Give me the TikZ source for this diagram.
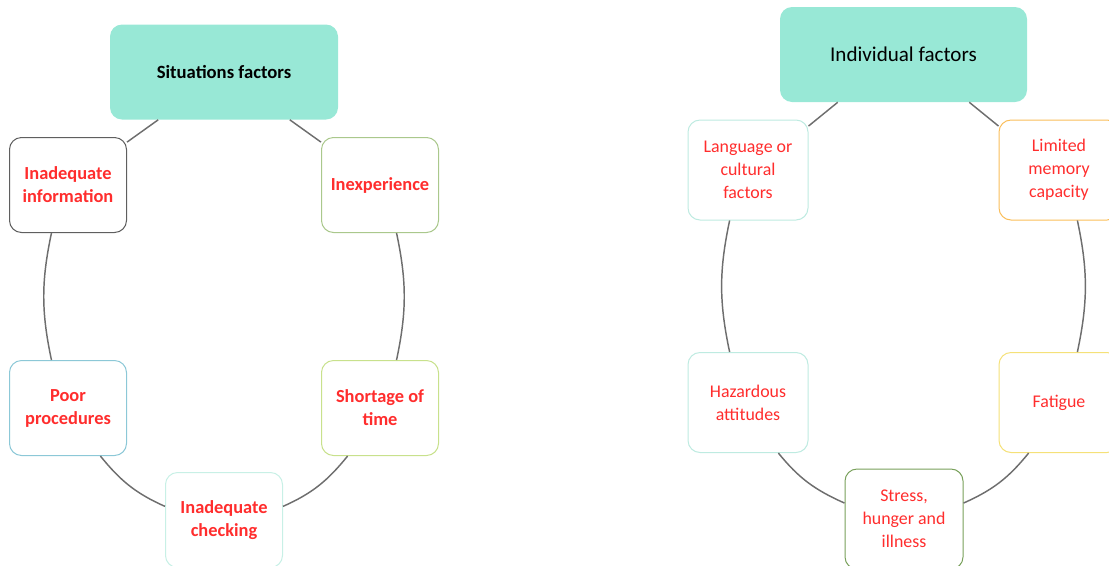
\documentclass[tikz,border=0pt]{standalone}
\usepackage{fontspec}
\setmainfont{Carlito}

\definecolor{titlefill}{RGB}{152,232,214}
\definecolor{labelred}{RGB}{255,45,45}
\definecolor{linkgray}{RGB}{110,110,110}
\definecolor{infoedge}{RGB}{95,95,95}
\definecolor{expedge}{RGB}{170,200,140}
\definecolor{pooredge}{RGB}{140,200,215}
\definecolor{shortedge}{RGB}{200,225,140}
\definecolor{checkedge}{RGB}{200,240,230}
\definecolor{paleedge}{RGB}{190,235,225}
\definecolor{memedge}{RGB}{250,190,90}
\definecolor{fatedge}{RGB}{245,225,120}
\definecolor{stressedge}{RGB}{120,160,90}

\tikzset{
  factor/.style={draw, line width=0.75pt, fill=white, rounded corners=9pt, inner sep=0pt,
    align=center, text=labelred, minimum width=87.75pt, minimum height=71.25pt,
    font=\bfseries\fontsize{13.8}{17.25}\selectfont},
  bigfactor/.style={factor, minimum width=90pt, minimum height=75pt,
    font=\fontsize{13.4}{17.25}\selectfont},
  heading/.style={fill=titlefill, rounded corners=9pt, inner sep=0pt, minimum height=71.25pt},
  link/.style={draw=linkgray, line width=1.1pt}
}

\begin{document}
\begin{tikzpicture}[x=0.75pt,y=-0.75pt]
  \useasboundingbox (0,0) rectangle (1109,565);
  \clip (0,0) rectangle (1109,565);

  \node[heading, minimum width=171pt, font=\bfseries\fontsize{14}{16}\selectfont] (sitTitle) at (224,72) {Situations factors};
  \node[factor, draw=infoedge] (sitInfo) at (68,185) {Inadequate\\information};
  \node[factor, draw=expedge] (sitExp) at (380,185) {Inexperience};
  \node[factor, draw=pooredge] (sitPoor) at (68,408) {Poor\\procedures};
  \node[factor, draw=shortedge] (sitShort) at (380,408) {Shortage of\\time};
  \node[factor, draw=checkedge] (sitCheck) at (224,520) {Inadequate\\checking};

  \draw[link] (sitTitle.216) -- (sitInfo.36);
  \draw[link] (sitTitle.324) -- (sitExp.144);
  \draw[link] (sitInfo.251) to[out=258,in=102] (sitPoor.109);
  \draw[link] (sitExp.289) to[out=282,in=78] (sitShort.71);
  \draw[link] (sitPoor.-56) to[out=-51,in=156] (sitCheck.167);
  \draw[link] (sitShort.236) to[out=231,in=24] (sitCheck.13);

  \node[heading, minimum width=185.25pt, font=\fontsize{15.8}{18}\selectfont] (indTitle) at (903.5,54.5) {Individual factors};
  \node[bigfactor, draw=paleedge] (indLang) at (748,170) {Language or\\cultural\\factors};
  \node[bigfactor, draw=memedge] (indMem) at (1059,170) {Limited\\memory\\capacity};
  \node[bigfactor, draw=paleedge] (indHaz) at (748,402.5) {Hazardous\\attitudes};
  \node[bigfactor, draw=fatedge] (indFat) at (1059,402.5) {Fatigue};
  \node[bigfactor, minimum width=88.5pt, draw=stressedge] (indStress) at (904,519) {Stress,\\hunger and\\illness};

  \draw[link] (indTitle.216) -- (indLang.36);
  \draw[link] (indTitle.324) -- (indMem.144);
  \draw[link] (indLang.250) to[out=258,in=102] (indHaz.110);
  \draw[link] (indMem.290) to[out=282,in=78] (indFat.70);
  \draw[link] (indHaz.-59) to[out=-51,in=156] (indStress.165);
  \draw[link] (indFat.239) to[out=231,in=24] (indStress.15);
\end{tikzpicture}
\end{document}
